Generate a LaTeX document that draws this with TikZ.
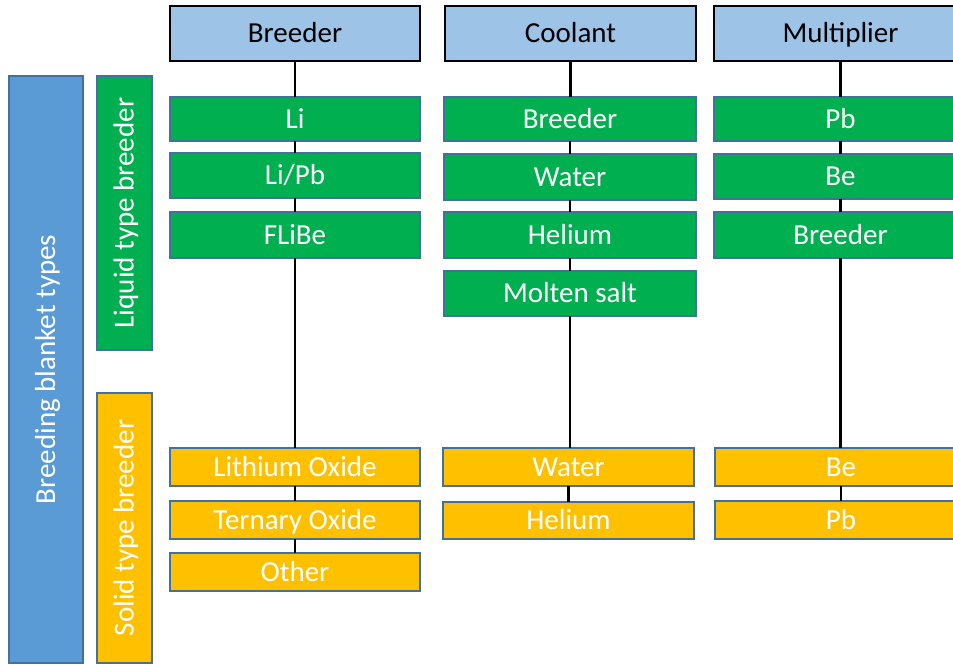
\documentclass[tikz,border=0pt]{standalone}
\usepackage{fontspec}
\setmainfont{Carlito}
\definecolor{hdrblue}{HTML}{9DC3E6}
\definecolor{bigblue}{HTML}{5B9BD5}
\definecolor{grn}{HTML}{00B050}
\definecolor{org}{HTML}{FFC000}
\definecolor{edge}{HTML}{41719C}
\newcommand\bx[7]{\node[#1, minimum width={(#5-#3)*1pt}, minimum height={(#6-#4)*1pt}] (#2) at ({(#3+#5)/2},{(#4+#6)/2}) {#7};}
\newcommand\vbx[7]{\node[#1, rotate=90, minimum width={(#6-#4)*1pt}, minimum height={(#5-#3)*1pt}] (#2) at ({(#3+#5)/2},{(#4+#6)/2}) {#7};}
\begin{document}
\begin{tikzpicture}[x=1pt,y=-1pt,
  base/.style={rectangle, inner sep=0pt, outer sep=0pt, font=\fontsize{29}{33}\selectfont, text height=24pt, text depth=6pt},
  hdr/.style={base, fill=hdrblue, draw=black, line width=2pt, text=black},
  gbox/.style={base, fill=grn, draw=edge, line width=1.6pt, text=white},
  obox/.style={base, fill=org, draw=edge, line width=1.6pt, text=white},
  bbox/.style={base, fill=bigblue, draw=edge, line width=1.6pt, text=white},
  conn/.style={draw=black, line width=2.2pt}]
\clip (0,0) rectangle (953,665);
% left vertical bars
\vbx{bbox}{types}{9}{76}{83}{663}{Breeding blanket types}
\vbx{gbox}{liquid}{97}{76}{152}{350}{Liquid type breeder}
\vbx{obox}{solid}{97}{393}{152}{663}{Solid type breeder}
% headers
\bx{hdr}{hB}{170}{6}{420}{61}{Breeder}
\bx{hdr}{hC}{445}{6}{696}{61}{Coolant}
\bx{hdr}{hM}{714}{6}{967}{61}{Multiplier}
% breeder column
\bx{gbox}{b1}{170}{97}{420}{141}{Li}
\bx{gbox}{b2}{170}{153}{420}{198}{Li/Pb}
\bx{gbox}{b3}{170}{212}{420}{258}{FLiBe}
\bx{obox}{b4}{170}{448}{420}{486}{Lithium Oxide}
\bx{obox}{b5}{170}{501}{420}{539}{Ternary Oxide}
\bx{obox}{b6}{170}{553}{420}{591}{Other}
% coolant column
\bx{gbox}{c1}{444}{97}{696}{141}{Breeder}
\bx{gbox}{c2}{444}{154}{696}{200}{Water}
\bx{gbox}{c3}{444}{212}{696}{258}{Helium}
\bx{gbox}{c4}{444}{271}{696}{316}{Molten salt}
\bx{obox}{c5}{443}{448}{694}{486}{Water}
\bx{obox}{c6}{443}{502}{694}{539}{Helium}
% multiplier column
\bx{gbox}{m1}{714}{97}{967}{141}{Pb}
\bx{gbox}{m2}{714}{154}{967}{199}{Be}
\bx{gbox}{m3}{714}{212}{967}{258}{Breeder}
\bx{obox}{m4}{715}{448}{967}{486}{Be}
\bx{obox}{m5}{715}{501}{967}{539}{Pb}
% connectors
\draw[conn] (hB.south) -- (hB.south |- b1.north);
\draw[conn] (b1.south) -- (b1.south |- b2.north);
\draw[conn] (b2.south) -- (b2.south |- b3.north);
\draw[conn] (b3.south) -- (b3.south |- b4.north);
\draw[conn] (b4.south) -- (b4.south |- b5.north);
\draw[conn] (b5.south) -- (b5.south |- b6.north);
\draw[conn] (hC.south) -- (hC.south |- c1.north);
\draw[conn] (c1.south) -- (c1.south |- c2.north);
\draw[conn] (c2.south) -- (c2.south |- c3.north);
\draw[conn] (c3.south) -- (c3.south |- c4.north);
\draw[conn] (c4.south) -- (c4.south |- c5.north);
\draw[conn] (c5.south) -- (c5.south |- c6.north);
\draw[conn] (hM.south) -- (hM.south |- m1.north);
\draw[conn] (m1.south) -- (m1.south |- m2.north);
\draw[conn] (m2.south) -- (m2.south |- m3.north);
\draw[conn] (m3.south) -- (m3.south |- m4.north);
\draw[conn] (m4.south) -- (m4.south |- m5.north);
\end{tikzpicture}
\end{document}
